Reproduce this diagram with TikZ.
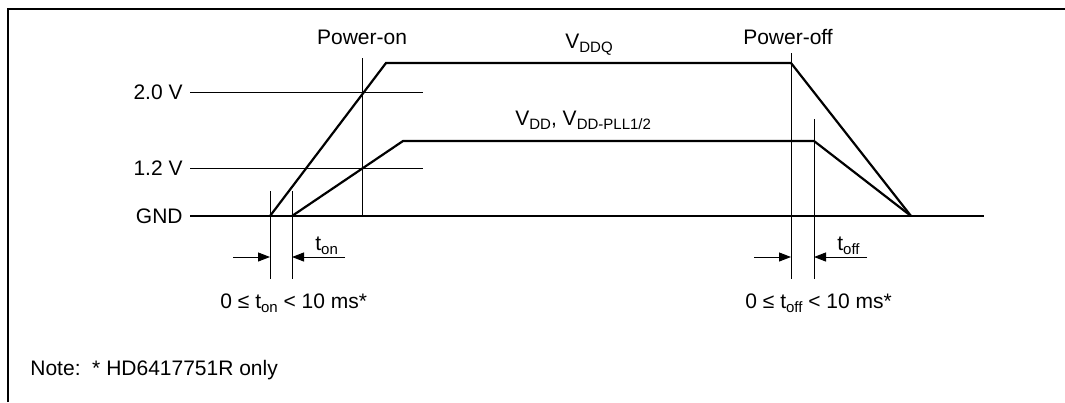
\documentclass[tikz,border=0pt]{standalone}
\usepackage{fontspec}
\setmainfont{Liberation Sans}
\usetikzlibrary{arrows.meta}
\newcommand\lowsub[1]{\raisebox{-2.2pt}{\fontsize{7.5}{8}\selectfont #1}}
\begin{document}
\begin{tikzpicture}[x=0.5pt,y=-0.5pt,
  heavy/.style={line width=1.1pt,line join=miter},
  hair/.style={line width=0.5pt},
  frameline/.style={line width=1.1pt},
  lbl/.style={font=\fontsize{10.5}{12}\selectfont,inner sep=0pt},
  lvl/.style={lbl,anchor=east,inner xsep=3.5pt},
  dimarrow/.style={hair,-{Triangle[length=6pt,width=4.5pt]}}]
\useasboundingbox (0,0) rectangle (1065,402);
% frame
\draw[frameline] (8,402) -- (8,9) -- (1065,9);
% level labels
\node[lvl] (l20) at (190,92) {2.0 V};
\node[lvl] (l12) at (190,168) {1.2 V};
\node[lvl] (gnd) at (190,216) {GND};
\coordinate (l20e) at (423,92);
\coordinate (l12e) at (423,168);
\draw[hair] (l20.east) -- (l20e);
\draw[hair] (l12.east) -- (l12e);
% waveform points
\coordinate (a0) at (270,216);
\coordinate (b0) at (292,216);
\coordinate (a1) at (386,63);
\coordinate (b1) at (403,141);
\coordinate (a2) at (791,63);
\coordinate (b2) at (814,141);
\coordinate (e) at (911,216);
\coordinate (gndend) at (984,216);
\draw[heavy] (gnd.east) -- (gndend);
\draw[heavy] (a0) -- (a1) -- (a2) -- (e);
\draw[heavy] (b0) -- (b1) -- (b2) -- (e);
% vertical markers
\coordinate (v1t) at (270,191); \coordinate (v1b) at (270,279);
\coordinate (v2t) at (292,191); \coordinate (v2b) at (292,279);
\coordinate (v3t) at (362,58);  \coordinate (v3b) at (362,216);
\coordinate (v4t) at (791,53);  \coordinate (v4b) at (791,279);
\coordinate (v5t) at (814,119); \coordinate (v5b) at (814,279);
\draw[hair] (v1t) -- (v1b);
\draw[hair] (v2t) -- (v2b);
\draw[hair] (v3t) -- (v3b);
\draw[hair] (v4t) -- (v4b);
\draw[hair] (v5t) -- (v5b);
% dimension arrows
\coordinate (d1s) at (233,257); \coordinate (d1e) at (270,257);
\coordinate (d2s) at (345,257); \coordinate (d2e) at (292,257);
\coordinate (d3s) at (754,257); \coordinate (d3e) at (791,257);
\coordinate (d4s) at (867,257); \coordinate (d4e) at (814,257);
\draw[dimarrow] (d1s) -- (d1e);
\draw[dimarrow] (d2s) -- (d2e);
\draw[dimarrow] (d3s) -- (d3e);
\draw[dimarrow] (d4s) -- (d4e);
% texts
\node[lbl,anchor=base] (pon) at (362,44) {Power-on};
\node[lbl,anchor=base] (poff) at (788,44) {Power-off};
\node[lbl,anchor=base west] (vddq) at (565,48) {V\lowsub{DDQ}};
\node[lbl,anchor=base west] (vdd) at (515,125) {V\lowsub{DD}, V\lowsub{DD-PLL1/2}};
\node[lbl,anchor=base west] (ton) at (315,250) {t\lowsub{on}};
\node[lbl,anchor=base west] (toff) at (837,250) {t\lowsub{off}};
\node[lbl,anchor=base west] (onrng) at (220,308) {0 ≤ t\lowsub{on} < 10 ms*};
\node[lbl,anchor=base west] (offrng) at (745,308) {0 ≤ t\lowsub{off} < 10 ms*};
\node[lbl,anchor=base west] (note) at (30,375) {Note:\ \ * HD6417751R only};
\end{tikzpicture}
\end{document}
